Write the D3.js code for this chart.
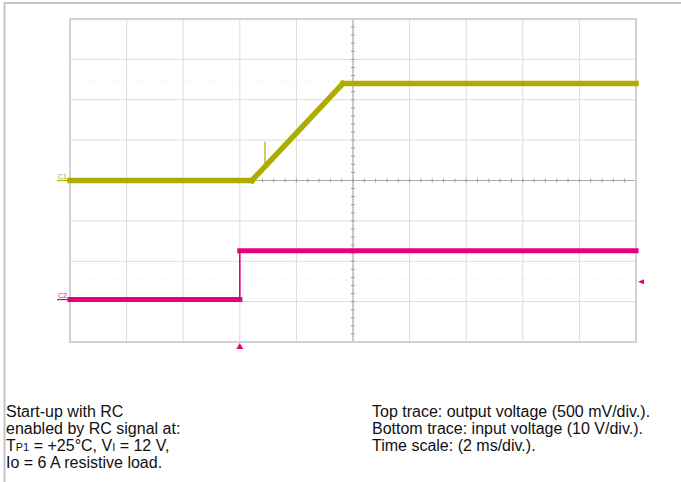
<!DOCTYPE html>
<html>
<head>
<meta charset="utf-8">
<script src="https://cdn.jsdelivr.net/npm/d3@7"></script>
<style>
  body { margin: 0; background: #fff; }
  svg { display: block; font-family: Arial, "Liberation Sans", sans-serif; }
</style>
</head>
<body>
<div id="scope"></div>
<script>
// scope settings
const channelNames = ["C1", "C2"];
const channelColors = ["#aeac00", "#e5007d"];
const voltsPerDiv = [0.5, 10];
const offsetDiv = [0, -2.95];

// top trace: output voltage (V) vs time (ms)
const ch1Time = [-10, -3.57, -0.36, 10];
const ch1Volts = [0, 0, 1.2, 1.2];
// small glitch on the ramp
const ch1SpikeTime = [-3.11];
const ch1SpikeFrom = [0.17];
const ch1SpikeTo = [0.48];

// bottom trace: input voltage (V) vs time (ms)
const ch2Time = [-10, -4.0, -4.0, 10];
const ch2Volts = [0, 0, 12.1, 12.1];

const triggerTime = -4.0;
const triggerLevel = 4.4; // on C2

// faint reference rows (divisions)
const refRows = [2.44, -2.46];

const noteLeft = [
    [["Start-up with RC"]],
    [["enabled by RC signal at:"]],
    [["T"], ["P1", "sub"], [" = +25°C, V"], ["I", "sub"], [" = 12 V,"]],
    [["Io = 6 A resistive load."]]
];
const noteRight = [
    "Top trace: output voltage (500 mV/div.).",
    "Bottom trace: input voltage (10 V/div.).",
    "Time scale: (2 ms/div.)."
];

const width = 681;
const height = 482;

const svg = d3.select("#scope")
    .append("svg")
    .attr("width", width)
    .attr("height", height);

// page frame
svg.append("line").attr("x1", 4).attr("x2", width).attr("y1", 3).attr("y2", 3)
    .attr("stroke", "#c4c4c4").attr("stroke-width", 2);
svg.append("line").attr("x1", 4.5).attr("x2", 4.5).attr("y1", 2).attr("y2", height)
    .attr("stroke", "#c4c4c4").attr("stroke-width", 2);

const x = d3.scaleLinear().domain([-10, 10]).range([70, 636]);
const y = d3.scaleLinear().domain([-4, 4]).range([342, 19]);

const plot = svg.append("g");

// grid
plot.selectAll(".vgrid")
    .data(x.ticks(10))
    .enter()
    .append("line")
    .attr("class", "vgrid")
    .attr("x1", d => x(d)).attr("x2", d => x(d))
    .attr("y1", y(-4)).attr("y2", y(4))
    .attr("stroke", "#dcdcdc")
    .attr("stroke-width", 1);

plot.selectAll(".hgrid")
    .data(y.ticks(8))
    .enter()
    .append("line")
    .attr("class", "hgrid")
    .attr("x1", x(-10)).attr("x2", x(10))
    .attr("y1", d => y(d)).attr("y2", d => y(d))
    .attr("stroke", "#dcdcdc")
    .attr("stroke-width", 1);

plot.selectAll(".ref")
    .data(refRows)
    .enter()
    .append("line")
    .attr("class", "ref")
    .attr("x1", x(-9.6)).attr("x2", x(9.8))
    .attr("y1", d => y(d)).attr("y2", d => y(d))
    .attr("stroke", "#ececec")
    .attr("stroke-dasharray", "2,4");

// centre axes with minor ticks
plot.append("line")
    .attr("x1", x(-10)).attr("x2", x(10))
    .attr("y1", y(0)).attr("y2", y(0))
    .attr("stroke", "#a8a8a8");
plot.append("line")
    .attr("x1", x(0)).attr("x2", x(0))
    .attr("y1", y(-4)).attr("y2", y(4))
    .attr("stroke", "#a8a8a8");

plot.selectAll(".xminor")
    .data(d3.range(-10, 10.001, 0.4))
    .enter()
    .append("line")
    .attr("class", "xminor")
    .attr("x1", d => x(d)).attr("x2", d => x(d))
    .attr("y1", y(0) - 2).attr("y2", y(0) + 2)
    .attr("stroke", "#a0a0a0");

plot.selectAll(".yminor")
    .data(d3.range(-4, 4.001, 0.2))
    .enter()
    .append("line")
    .attr("class", "yminor")
    .attr("y1", d => y(d)).attr("y2", d => y(d))
    .attr("x1", x(0) - 2).attr("x2", x(0) + 2)
    .attr("stroke", "#a0a0a0");

plot.append("rect")
    .attr("x", x(-10)).attr("y", y(4))
    .attr("width", x(10) - x(-10)).attr("height", y(-4) - y(4))
    .attr("fill", "none")
    .attr("stroke", "#d2d2d2")
    .attr("stroke-width", 2);

// volts -> screen y for a channel
function yv(ch, v) {
    return y(v / voltsPerDiv[ch] + offsetDiv[ch]);
}

function drawTrace(ch, times, volts, thick) {
    const pts = times.map((t, i) => [x(t), yv(ch, volts[i])]);
    const segs = d3.pairs(pts);
    plot.selectAll(".seg" + ch)
        .data(segs)
        .enter()
        .append("line")
        .attr("class", "seg" + ch)
        .attr("x1", d => d[0][0]).attr("y1", d => d[0][1])
        .attr("x2", d => d[1][0]).attr("y2", d => d[1][1])
        .attr("stroke", channelColors[ch])
        .attr("stroke-width", d => (d[0][0] === d[1][0] ? 1.6 : thick))
        .attr("stroke-linecap", d => (d[0][0] === d[1][0] ? "butt" : "square"));
}

drawTrace(0, ch1Time, ch1Volts, 5.5);
drawTrace(1, ch2Time, ch2Volts, 5);

plot.selectAll(".spike")
    .data(ch1SpikeTime)
    .enter()
    .append("line")
    .attr("x1", d => x(d)).attr("x2", d => x(d))
    .attr("y1", (d, i) => yv(0, ch1SpikeFrom[i]))
    .attr("y2", (d, i) => yv(0, ch1SpikeTo[i]))
    .attr("stroke", channelColors[0])
    .attr("stroke-width", 1.2);

// channel ground markers
channelNames.forEach((name, ch) => {
    const gy = yv(ch, 0);
    plot.append("line")
        .attr("x1", x(-10) - 13).attr("x2", x(-10))
        .attr("y1", gy).attr("y2", gy)
        .attr("stroke", channelColors[ch])
        .attr("stroke-width", 1.2);
    plot.append("text")
        .attr("x", x(-10) - 12)
        .attr("y", gy - 2)
        .attr("font-size", "7px")
        .attr("fill", channelColors[ch])
        .text(name);
});

// trigger markers
const tx = x(triggerTime);
plot.append("path")
    .attr("d", `M${tx},${y(-4) + 1} l-3.5,6 l7,0 Z`)
    .attr("fill", channelColors[1]);
const ty = yv(1, triggerLevel);
plot.append("path")
    .attr("d", `M${x(10) + 2},${ty} l6,-2.5 l0,5 Z`)
    .attr("fill", channelColors[1]);

// notes
const notes = svg.append("g").attr("font-size", "16px").attr("fill", "#111");

noteLeft.forEach((parts, i) => {
    const t = notes.append("text")
        .attr("x", 6)
        .attr("y", 417 + i * 17);
    parts.forEach(p => {
        const s = t.append("tspan").text(p[0]);
        if (p[1] === "sub") s.attr("font-size", "11px");
    });
});

notes.selectAll(".right")
    .data(noteRight)
    .enter()
    .append("text")
    .attr("class", "right")
    .attr("x", 372)
    .attr("y", (d, i) => 417 + i * 17)
    .text(d => d);
</script>
</body>
</html>
